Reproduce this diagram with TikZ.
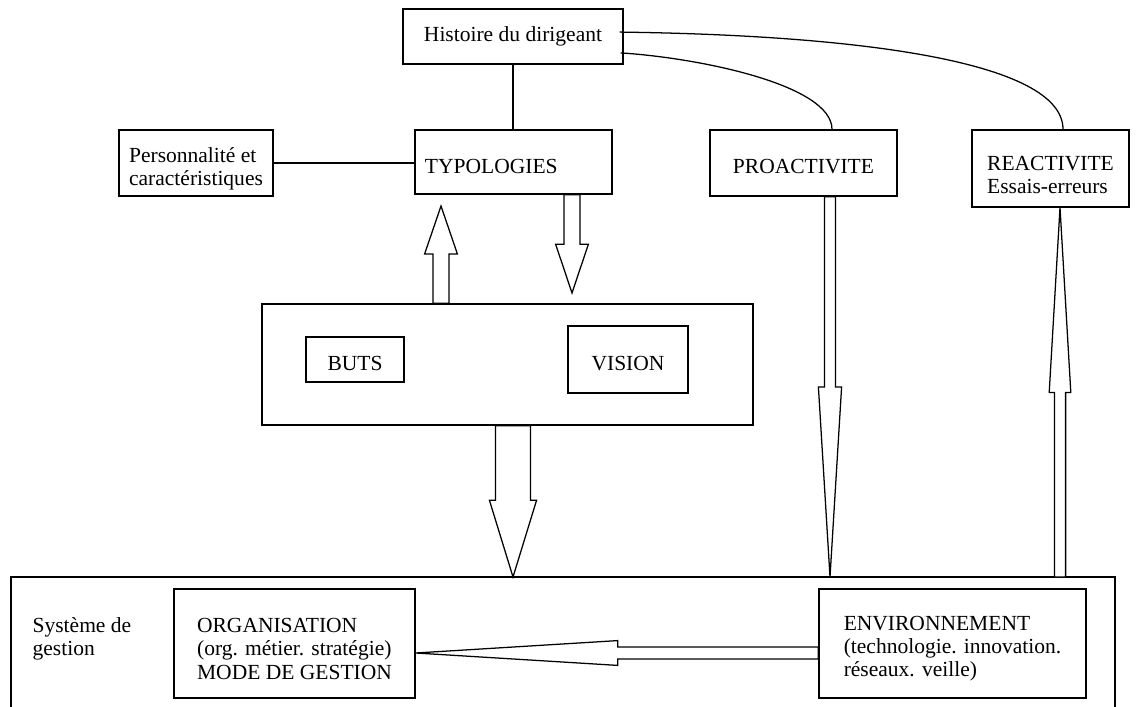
\documentclass[tikz,border=0pt]{standalone}
\usepackage{fontspec}
\setmainfont{Liberation Serif}
\usetikzlibrary{calc}
\tikzset{
  box/.style={draw, fill=white, rectangle, inner sep=0pt, font=\fontsize{15.3pt}{16.5pt}\selectfont},
  blockline/.style={draw, fill=white, line join=miter},
}
% invisible strut on the first line, pushes the text down in its box
\newcommand{\toppad}[1]{\rule{0pt}{#1}}
% #1 foot, #2 tip, #3 half shaft, #4 half head, #5 head length
\newcommand{\blockarrow}[5]{%
  \coordinate (headbase) at ($(#2)!#5!(#1)$);%
  \draw[blockline] ($(#1)!#3!90:(#2)$) -- ($(headbase)!#3!-90:(#1)$) -- ($(headbase)!#4!-90:(#1)$) -- (#2)
    -- ($(headbase)!#4!90:(#1)$) -- ($(headbase)!#3!90:(#1)$) -- ($(#1)!#3!-90:(#2)$) -- cycle;%
}

\begin{document}
\begin{tikzpicture}[x=0.025cm, y=-0.025cm, line width=0.9pt]%
\useasboundingbox (0,0) rectangle (1136,707);%
\node[box, minimum width=5.5cm, minimum height=1.375cm] (hist) at (513,36.5) {Histoire du dirigeant};%
\node[box, minimum width=4.925cm, minimum height=1.6cm, text width=4.425cm, align=left] (typo) at (513.5,162) {\toppad{16.5pt}TYPOLOGIES};%
\node[box, minimum width=3.85cm, minimum height=1.65cm, align=left] (perso) at (196,163) {\toppad{19pt}Personnalité et\\caractéristiques};%
\node[box, minimum width=4.675cm, minimum height=1.65cm] (proact) at (803.5,163) {\toppad{15.6pt}PROACTIVITE};%
\node[box, minimum width=3.925cm, minimum height=1.925cm, align=left] (react) at (1050.5,168.5) {\toppad{19pt}REACTIVITE\\Essais-erreurs};%
\node[box, minimum width=12.275cm, minimum height=3.025cm] (mid) at (507.5,364.5) {};%
\node[box, minimum width=2.45cm, minimum height=1.125cm] (buts) at (355,359.5) {\toppad{15.6pt}BUTS};%
\node[box, minimum width=3cm, minimum height=1.675cm] (vision) at (628,359.5) {\toppad{15.6pt}VISION};%
\node[box, minimum width=6.025cm, minimum height=2.725cm, align=left] (org) at (294.5,643.5) {\toppad{17.8pt}ORGANISATION\\(org. métier. stratégie)\\MODE DE GESTION};%
\node[box, minimum width=6.675cm, minimum height=2.725cm, align=left] (env) at (952.5,643.5) {\toppad{17.8pt}ENVIRONNEMENT\\(technologie. innovation.\\réseaux. veille)};%
\node[font=\fontsize{15.3pt}{16.5pt}\selectfont, align=left, inner sep=0pt, anchor=north west] (systlabel) at (32,617) {Système de\\gestion};%
% systeme de gestion, open at the bottom
\draw (11,707) -- (11,577) coordinate (systnw) -- (1115,577) coordinate (systne) -- (1115,707);%
% plain links
\draw (hist.south) -- (hist.south |- typo.north);%
\draw (perso.east) -- (perso.east -| typo.west);%
\draw ([xshift=-0.1cm, yshift=0.11cm]hist.east) .. controls (850,35) and (1063,60) .. (react.north -| 1063,0);%
\draw ([xshift=-0.075cm, yshift=-0.41cm]hist.east) .. controls (700,58) and (832,85) .. (proact.north -| 832,0);%
% block arrows
\blockarrow{mid.north -| 441,0}{441,206}{0.2cm}{0.41cm}{1.2cm}%
\blockarrow{typo.south -| 572,0}{572,293}{0.2cm}{0.41cm}{1.22cm}%
\blockarrow{mid.south -| 513,0}{systnw -| 513,0}{0.44cm}{0.59cm}{1.92cm}%
\blockarrow{proact.south -| 830,0}{systnw -| 830,0}{0.14cm}{0.29cm}{4.75cm}%
\blockarrow{systnw -| 1060,0}{react.south -| 1060,0}{0.14cm}{0.27cm}{4.62cm}%
\blockarrow{env.west |- 0,653}{org.east |- 0,653}{0.15cm}{0.31cm}{5.05cm}%
\end{tikzpicture}
\end{document}
